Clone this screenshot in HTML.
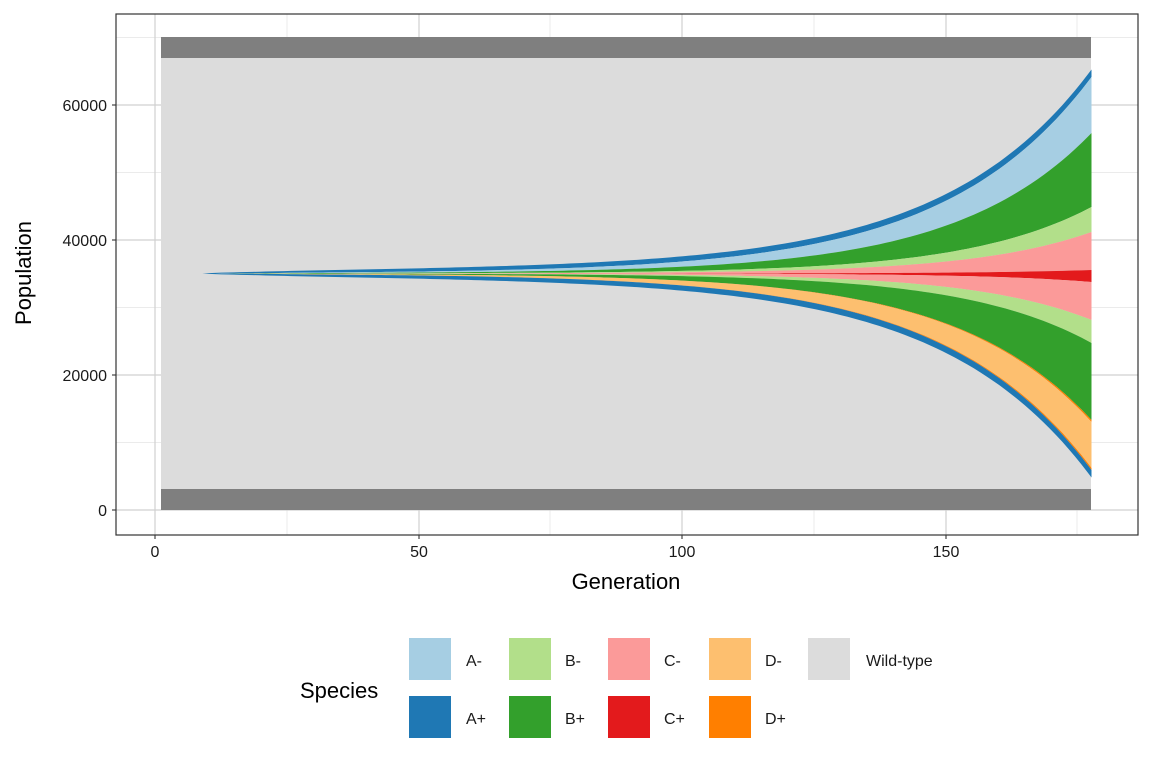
<!DOCTYPE html>
<html><head><meta charset="utf-8"><style>
body{margin:0;background:#fff;}
svg text{font-family:"Liberation Sans",Arial,sans-serif;}
</style></head><body>
<svg id="s" width="1152" height="768" xmlns="http://www.w3.org/2000/svg">
<rect width="1152" height="768" fill="#fff"/>
<g stroke="#ebebeb" stroke-width="1">
<line x1="116" x2="1138" y1="37.5" y2="37.5"/><line x1="116" x2="1138" y1="172.5" y2="172.5"/>
<line x1="116" x2="1138" y1="307.5" y2="307.5"/><line x1="116" x2="1138" y1="442.5" y2="442.5"/>
<line y1="14" y2="535" x1="287" x2="287"/><line y1="14" y2="535" x1="550" x2="550"/>
<line y1="14" y2="535" x1="814" x2="814"/><line y1="14" y2="535" x1="1077" x2="1077"/>
</g>
<g stroke="#d0d0d0" stroke-width="1.2">
<line x1="116" x2="1138" y1="105" y2="105"/><line x1="116" x2="1138" y1="240" y2="240"/>
<line x1="116" x2="1138" y1="375" y2="375"/><line x1="116" x2="1138" y1="510" y2="510"/>
<line y1="14" y2="535" x1="155" x2="155"/><line y1="14" y2="535" x1="419" x2="419"/>
<line y1="14" y2="535" x1="682" x2="682"/><line y1="14" y2="535" x1="946" x2="946"/>
</g>
<rect x="161" y="37" width="930" height="21" fill="#7f7f7f"/>
<rect x="161" y="489" width="930" height="21" fill="#7f7f7f"/>
<rect x="161" y="58" width="930" height="431" fill="#dcdcdc"/>
<g id="streams"></g>
<rect x="116" y="14" width="1022" height="521" fill="none" stroke="#333" stroke-width="1.2"/>
<g stroke="#333" stroke-width="1.1">
<line x1="112" x2="116" y1="105" y2="105"/><line x1="112" x2="116" y1="240" y2="240"/>
<line x1="112" x2="116" y1="375" y2="375"/><line x1="112" x2="116" y1="510" y2="510"/>
<line y1="535" y2="539" x1="155" x2="155"/><line y1="535" y2="539" x1="419" x2="419"/>
<line y1="535" y2="539" x1="682" x2="682"/><line y1="535" y2="539" x1="946" x2="946"/>
</g>
<g font-size="16" fill="#1a1a1a" text-anchor="end">
<text x="107" y="111">60000</text><text x="107" y="246">40000</text>
<text x="107" y="381">20000</text><text x="107" y="516">0</text>
</g>
<g font-size="16" fill="#1a1a1a" text-anchor="middle">
<text x="155" y="557">0</text><text x="419" y="557">50</text>
<text x="682" y="557">100</text><text x="946" y="557">150</text>
</g>
<text x="626" y="589" font-size="22" text-anchor="middle">Generation</text>
<text transform="translate(31,273) rotate(-90)" font-size="22" text-anchor="middle">Population</text>
<text x="300" y="698" font-size="22">Species</text>
<rect x="409" y="638" width="42" height="42" fill="#a6cee3"/><rect x="409" y="696" width="42" height="42" fill="#1f78b4"/>
<rect x="509" y="638" width="42" height="42" fill="#b2df8a"/><rect x="509" y="696" width="42" height="42" fill="#33a02c"/>
<rect x="608" y="638" width="42" height="42" fill="#fb9a99"/><rect x="608" y="696" width="42" height="42" fill="#e31a1c"/>
<rect x="709" y="638" width="42" height="42" fill="#fdbf6f"/><rect x="709" y="696" width="42" height="42" fill="#ff7f00"/>
<rect x="808" y="638" width="42" height="42" fill="#dcdcdc"/>
<g font-size="16" fill="#1a1a1a">
<text x="466" y="666">A-</text><text x="466" y="724">A+</text>
<text x="565" y="666">B-</text><text x="565" y="724">B+</text>
<text x="664" y="666">C-</text><text x="664" y="724">C+</text>
<text x="765" y="666">D-</text><text x="765" y="724">D+</text>
<text x="866" y="666">Wild-type</text>
</g>
</svg>
<script>
(function(){
var c=273.5;
var b=[null,[-196.5,0.036],[-140.5,0.039],[-66.5,0.042],[-41.5,0.045],[-3.5,0.05],[8.5,0.05],[46.5,0.045],[69.5,0.042],[146.5,0.039],[148.5,0.039],[194.5,0.036],[196.5,0.036],null];
var cols=["#1f78b4","#a6cee3","#33a02c","#b2df8a","#fb9a99","#e31a1c","#fb9a99","#b2df8a","#33a02c","#ff7f00","#fdbf6f","#ff7f00","#1f78b4"];
function X(g){return 155+g*5.27;}
function W(g){var t=Math.max(0,(g-9)/168.7);return 7.5*Math.pow(t,0.6);}
function Y(i,g){
 if(i==0) return Y(1,g)-W(g);
 if(i==13) return Y(12,g)+W(g);
 var v=b[i][0]*Math.exp(b[i][1]*(g-177.7));
 var t=Math.max(0,Math.min(1,(g-9)/20));
 return c+v*t;
}
var out="";
for(var i=0;i<cols.length;i++){
 var p=[],q=[];
 var gs=[];for(var g=9;g<177.7;g+=1.2)gs.push(g);gs.push(177.7);
 gs.forEach(function(g){p.push(X(g).toFixed(1)+","+Y(i,g).toFixed(2));q.unshift(X(g).toFixed(1)+","+Y(i+1,g).toFixed(2));});
 out+='<polygon fill="'+cols[i]+'" points="'+p.concat(q).join(" ")+'"/>';
}
document.getElementById("streams").innerHTML=out;
})();
</script>
</body></html>
